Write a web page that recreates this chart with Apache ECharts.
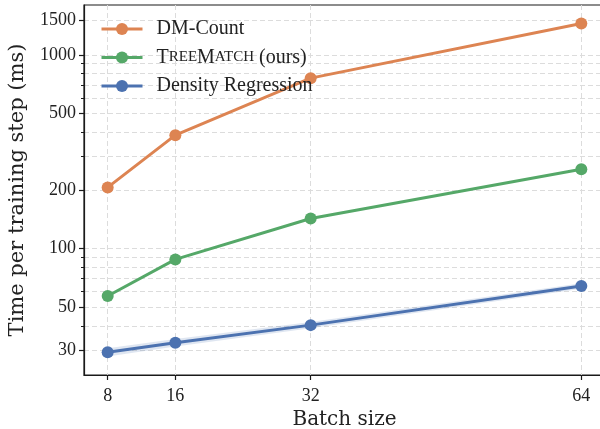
<!DOCTYPE html>
<html lang="en">
<head>
    <meta charset="UTF-8">
    <title>Batch size timing</title>
    <script src="https://cdn.jsdelivr.net/npm/echarts@6/dist/echarts.min.js"></script>
    <style type="text/css">
        html, body { margin: 0; height: 100%; background: #fff; }
        #chart { width: 600px; height: 429px; }
    </style>
</head>
<body>
    <div id="chart"></div>
    <script type="text/javascript">
        var batchSizes = [8, 16, 32, 64];
        var dmCount = [207, 385, 758, 1452];
        var treeMatch = [57, 88, 143, 257];
        var densityReg = [29.2, 32.7, 40.3, 64.1];
        var densityLow = [27.8, 31.3, 38.8, 62.0];
        var densityHigh = [30.6, 34.2, 41.8, 66.2];
        var majorTicks = [30, 50, 100, 200, 500, 1000, 1500];
        var minorTicks = [40, 60, 70, 80, 90, 300, 400, 600, 700, 800, 900];

        var font = 'Liberation Serif';
        var titleFont = 'DejaVu Serif';
        var lg = function (v) { return Math.log10(v); };
        function pairs(vals) {
            return batchSizes.map(function (b, i) { return [b, lg(vals[i])]; });
        }
        // shaded band around density regression, in log space
        var bandData = batchSizes.map(function (b, i) {
            return [b, lg(densityLow[i]), lg(densityHigh[i])];
        });

        var yMin = 1.348, yMax = 3.257;
        var gridLine = { show: true, lineStyle: { color: '#dcdcdc', type: [5, 3], width: 1 } };

        var chart = echarts.init(document.getElementById('chart'));
        var option = {
            animation: false,
            backgroundColor: '#fff',
            grid: {
                left: 84, right: -5, top: 5, bottom: 54,
                outerBoundsMode: 'none',
                containLabel: false,
                show: true, borderColor: '#1a1a1a', borderWidth: 1.2
            },
            legend: {
                left: 100, top: 19, orient: 'vertical', padding: 0,
                itemWidth: 41, itemHeight: 15, itemGap: 8.5,
                lineStyle: { width: 3 },
                data: ['DM-Count', 'TreeMatch (ours)', 'Density Regression'],
                formatter: function (name) {
                    if (name === 'TreeMatch (ours)') {
                        return '{b|T}{s|REE}{b|M}{s|ATCH}{b| (ours)}';
                    }
                    return name;
                },
                textStyle: {
                    fontFamily: font, fontSize: 20, color: '#222',
                    padding: [0, 0, 0, 9],
                    rich: {
                        b: { fontFamily: font, fontSize: 20, color: '#222' },
                        s: { fontFamily: font, fontSize: 15, color: '#222' }
                    }
                }
            },
            xAxis: {
                type: 'value', min: 5.2, max: 66.8,
                name: 'Batch size', nameLocation: 'middle', nameGap: 33,
                nameTextStyle: { fontFamily: titleFont, fontSize: 20, color: '#222' },
                axisLine: { lineStyle: { color: '#1a1a1a', width: 1.2 } },
                axisTick: { customValues: batchSizes, length: 5, lineStyle: { color: '#1a1a1a', width: 1.2 } },
                axisLabel: { customValues: batchSizes, fontFamily: font, fontSize: 18, color: '#222', margin: 12 },
                splitLine: gridLine
            },
            yAxis: [{
                type: 'value', min: yMin, max: yMax,
                name: 'Time per training step (ms)', nameLocation: 'middle', nameGap: 56,
                nameTextStyle: { fontFamily: titleFont, fontSize: 21, color: '#222' },
                axisLine: { show: true, lineStyle: { color: '#1a1a1a', width: 1.2 } },
                axisTick: { customValues: majorTicks.map(lg), length: 5, lineStyle: { color: '#1a1a1a', width: 1.2 } },
                axisLabel: {
                    customValues: majorTicks.map(lg),
                    fontFamily: font, fontSize: 18, color: '#222', margin: 8,
                    formatter: function (v) { return String(Math.round(Math.pow(10, v))); }
                },
                splitLine: { show: false }
            }, {
                // minor ticks (shorter), grid lines at every major and minor tick
                type: 'value', min: yMin, max: yMax, position: 'left',
                axisLine: { show: false },
                axisTick: { customValues: majorTicks.concat(minorTicks).map(lg), length: 3, lineStyle: { color: '#1a1a1a', width: 1 } },
                axisLabel: { show: false },
                splitLine: gridLine
            }],
            series: [
                {
                    name: 'band', type: 'custom', data: bandData,
                    encode: { x: 0, y: [1, 2] }, silent: true, z: 1,
                    renderItem: function (params, api) {
                        var i = params.dataIndexInside;
                        if (i >= params.dataInsideLength - 1) return null;
                        var x0 = api.value(0, i), x1 = api.value(0, i + 1);
                        var pts = [
                            api.coord([x0, api.value(1, i)]),
                            api.coord([x1, api.value(1, i + 1)]),
                            api.coord([x1, api.value(2, i + 1)]),
                            api.coord([x0, api.value(2, i)])
                        ];
                        return {
                            type: 'polygon',
                            shape: { points: pts },
                            style: { fill: 'rgba(76,114,176,0.18)', stroke: null }
                        };
                    }
                },
                {
                    name: 'DM-Count', type: 'line', data: pairs(dmCount), z: 3,
                    color: '#dd8452', symbol: 'circle', symbolSize: 12,
                    lineStyle: { width: 3 }
                },
                {
                    name: 'TreeMatch (ours)', type: 'line', data: pairs(treeMatch), z: 3,
                    color: '#55a868', symbol: 'circle', symbolSize: 12,
                    lineStyle: { width: 3 }
                },
                {
                    name: 'Density Regression', type: 'line', data: pairs(densityReg), z: 3,
                    color: '#4c72b0', symbol: 'circle', symbolSize: 12,
                    lineStyle: { width: 3 }
                }
            ]
        };
        chart.setOption(option);
    </script>
</body>
</html>
